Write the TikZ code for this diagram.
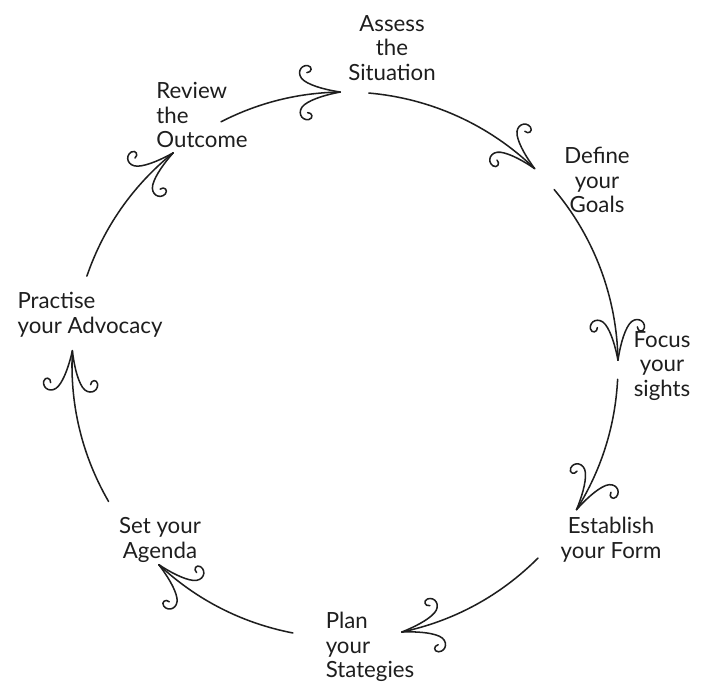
\documentclass[tikz,border=0pt]{standalone}
\usepackage{fontspec}
\setmainfont{Lato}
\usetikzlibrary{positioning}

\definecolor{inkcol}{HTML}{1E1E1E}

\tikzset{
  ink/.style={draw=inkcol, line width=1.3pt, line cap=round, line join=round},
  cycletext/.style={inner sep=1pt, text=inkcol, align=center,
    font=\fontsize{19}{21}\selectfont},
  cyclearc/.style={ink, looseness=0.88},
  curlhead/.pic={
    \draw[ink] (0,0) .. controls (-12,2) and (-28,6) .. (-36,12)
      .. controls (-44,18) and (-40,28) .. (-32,27)
      .. controls (-27,26) and (-28,20) .. (-33,20);
    \draw[ink] (0,0) .. controls (-12,-2) and (-28,-6) .. (-36,-12)
      .. controls (-44,-18) and (-40,-28) .. (-32,-27)
      .. controls (-27,-26) and (-28,-20) .. (-33,-20);
  }
}

\begin{document}
\begin{tikzpicture}[x=0.3mm, y=0.3mm]
        % Fix the page to the picture's size
        \fill[white] (0,0) rectangle (704,697);
        \useasboundingbox (0,0) rectangle (704,697);
        % Add labels for the stages
        \node[cycletext] (assess) at (392,649) {Assess\\the\\Situation};
        \node[cycletext] (define) at (597,517) {Define\\your\\Goals};
        \node[cycletext] (focus) at (662,331) {Focus\\your\\sights};
        \node[cycletext] (establish) at (611,157) {Establish\\your Form};
        \node[cycletext, align=left] (plan) at (370,50) {Plan\\your\\Stategies};
        \node[cycletext] (agenda) at (160,157) {Set your\\Agenda};
        \node[cycletext, align=left] (practise) at (90,382) {Practise\\your Advocacy};
        \node[cycletext, align=left] (review) at (202,582) {Review\\the\\Outcome};
        % Ends of the arcs on the circle
        \begin{scope}[shift={(345,332)}]
          \coordinate (s1) at (85:273);   \coordinate (e1) at (46:273);
          \coordinate (s2) at (40:273);   \coordinate (e2) at (1:273);
          \coordinate (s3) at (-3:273);   \coordinate (e3) at (-32:273);
          \coordinate (s4) at (-45:273);  \coordinate (e4) at (-78:273);
          \coordinate (s5) at (-101:273); \coordinate (e5) at (-133:273);
          \coordinate (s6) at (-150:273); \coordinate (e6) at (-183:273);
          \coordinate (s7) at (161:273);  \coordinate (e7) at (129:273);
          \coordinate (s8) at (117:273);  \coordinate (e8) at (91:273);
        \end{scope}
        % Draw the arcs
        \draw[cyclearc] (s1) to[bend left=19.5] (e1);
        \draw[cyclearc] (s2) to[bend left=19.5] (e2);
        \draw[cyclearc] (s3) to[bend left=14.5] (e3);
        \draw[cyclearc] (s4) to[bend left=16.5] (e4);
        \draw[cyclearc] (s5) to[bend left=16] (e5);
        \draw[cyclearc] (s6) to[bend left=16.5] (e6);
        \draw[cyclearc] (s7) to[bend left=16] (e7);
        \draw[cyclearc] (s8) to[bend left=13] (e8);
        % Curly arrow heads
        \pic[rotate=-44] at (e1) {curlhead};
        \pic[rotate=-89] at (e2) {curlhead};
        \pic[rotate=-122] at (e3) {curlhead};
        \pic[rotate=-168] at (e4) {curlhead};
        \pic[rotate=-223] at (e5) {curlhead};
        \pic[rotate=-273] at (e6) {curlhead};
        \pic[rotate=39] at (e7) {curlhead};
        \pic[rotate=1] at (e8) {curlhead};
      \end{tikzpicture}
\end{document}
